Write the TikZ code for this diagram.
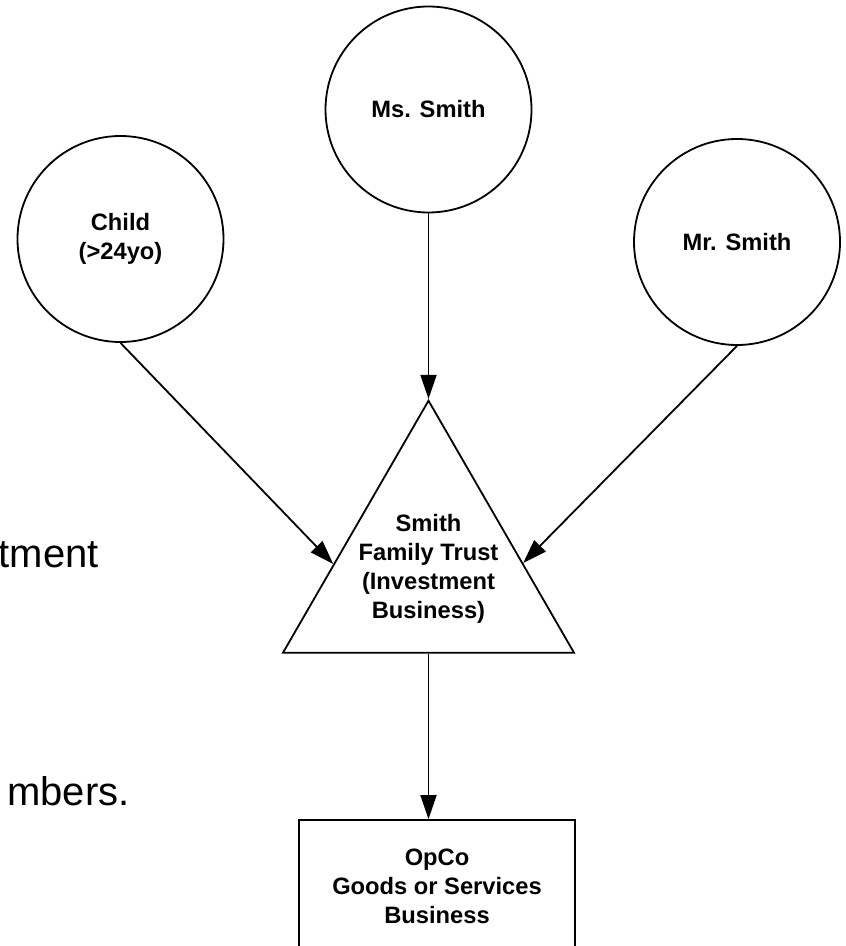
\documentclass[tikz,border=0pt]{standalone}
\usepackage{fontspec}
\setmainfont{Liberation Sans}
\usetikzlibrary{shapes.geometric,arrows.meta,calc}
\begin{document}
\begin{tikzpicture}[x=0.5pt,y=-0.5pt,
  every node/.style={font=\fontsize{11.85}{14.5}\selectfont\bfseries, align=center},
  person/.style={circle, draw, line width=0.9pt, minimum size=103pt, inner sep=0pt},
  trustshape/.style={regular polygon, regular polygon sides=3, draw, line width=0.9pt,
                     minimum size=168pt, inner sep=0pt},
  company/.style={rectangle, draw, line width=0.9pt, minimum width=138pt,
                  minimum height=66.5pt, inner sep=0pt},
  link/.style={line width=0.9pt, -{Triangle[length=12pt,width=8pt]}},
  note/.style={font=\fontsize{20}{24}\selectfont, inner sep=0pt}
]
% page frame
\clip (0,0) rectangle (845,946);
\fill[white] (0,0) rectangle (845,946);

% fragments of body text at the left edge
\node[note, anchor=base east] (notea) at (99,567) {tment};
\node[note, anchor=base east] (noteb) at (130,805) {mbers.};

% owners
\node[person] (child)   at (120.5,239) {Child\\(>24yo)};
\node[person] (mssmith) at (428.5,109.5) {Ms. Smith};
\node[person] (mrsmith) at (737,242) {Mr. Smith};

% trust
\node[trustshape] (trust) at (428.5,568.7) {};
\node (trusttext) at (428.5,568.5) {Smith\\Family Trust\\(Investment\\Business)};

% operating company
\node[company] (opco) at (437,886.5) {OpCo\\Goods or Services\\Business};

% connectors
\draw[link] (child.south) -- ($(trust.corner 2)!0.352!(trust.corner 1)$);
\draw[link] (mssmith.south) -- (trust.corner 1);
\draw[link] (mrsmith.south) -- ($(trust.corner 3)!0.356!(trust.corner 1)$);
\draw[link] (trust.side 2) -- (trust.side 2 |- opco.north);
\end{tikzpicture}
\end{document}
